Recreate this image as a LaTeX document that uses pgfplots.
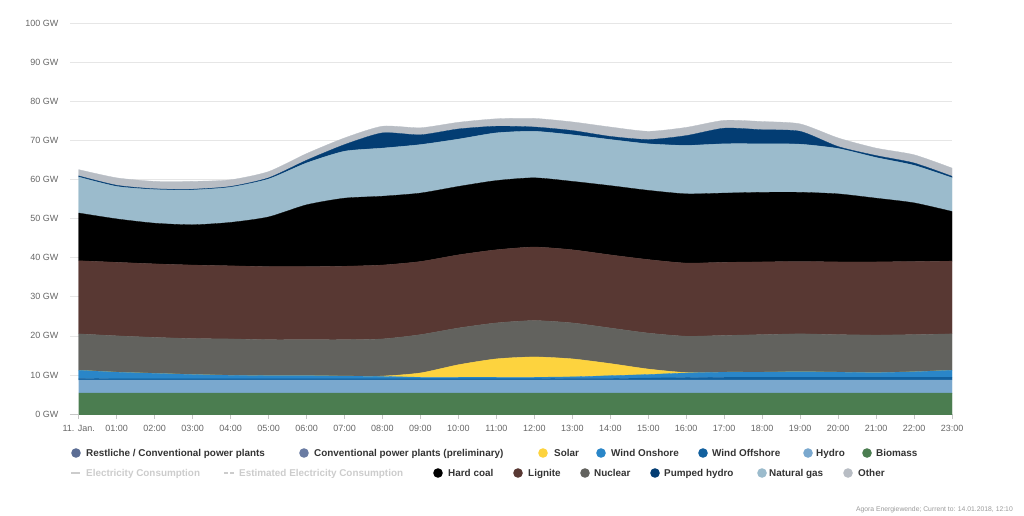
\documentclass[border=0pt]{standalone}
\usepackage{pgfplots}
\pgfplotsset{compat=1.18}
\usepackage{pgfplotstable}
\usepackage{fontspec}
\setmainfont{Liberation Sans}

\definecolor{cBio}{HTML}{4B7D50}
\definecolor{cHyd}{HTML}{7AA8CE}
\definecolor{cOff}{HTML}{12609E}
\definecolor{cOn}{HTML}{2A86C8}
\definecolor{cSol}{HTML}{FDD33E}
\definecolor{cNuc}{HTML}{62625E}
\definecolor{cLig}{HTML}{583833}
\definecolor{cHC}{HTML}{000000}
\definecolor{cGas}{HTML}{9BBBCC}
\definecolor{cPH}{HTML}{033D73}
\definecolor{cOth}{HTML}{B8BDC4}
\definecolor{cRest}{HTML}{5B6D94}
\definecolor{cPrel}{HTML}{6A7CA3}
\definecolor{cGrid}{HTML}{E6E6E6}
\definecolor{cTick}{HTML}{666666}
\definecolor{cLeg}{HTML}{333333}
\definecolor{cInact}{HTML}{CCCCCC}

\pgfplotstableread{
h bio hyd off on sol nuc lig hc gas ph oth
0 5.4 3.3 0.4 2.1 0.0 9.3 18.7 12.2 9.2 0.3 1.6
1 5.4 3.3 0.3 1.7 0.0 9.3 18.8 11.1 8.3 0.3 1.9
2 5.4 3.3 0.3 1.4 0.0 9.2 18.8 10.4 8.6 0.2 1.9
3 5.4 3.3 0.3 1.1 0.0 9.2 18.8 10.3 8.9 0.2 2.0
4 5.4 3.3 0.3 0.9 0.0 9.3 18.7 11.1 9.0 0.2 1.7
5 5.4 3.3 0.3 0.8 0.0 9.2 18.7 12.7 9.7 0.3 1.6
6 5.4 3.3 0.3 0.8 0.0 9.2 18.7 15.8 10.7 0.7 1.7
7 5.4 3.3 0.3 0.7 0.0 9.3 18.8 17.4 12.0 1.7 1.7
8 5.4 3.3 0.3 0.6 0.1 9.5 18.9 17.6 12.3 3.9 1.7
9 5.4 3.3 0.3 0.4 1.1 9.8 18.7 17.5 12.4 2.5 1.8
10 5.4 3.3 0.3 0.4 3.2 9.4 18.7 17.5 12.1 2.6 1.7
11 5.4 3.3 0.3 0.4 4.7 9.2 18.7 17.7 12.2 1.7 1.9
12 5.4 3.3 0.3 0.4 5.2 9.3 18.8 17.7 11.9 1.1 2.2
13 5.4 3.3 0.4 0.4 4.6 9.2 18.7 17.5 11.9 1.1 2.2
14 5.4 3.3 0.4 0.7 3.1 9.1 18.7 17.7 11.8 0.8 2.4
15 5.4 3.3 0.5 0.9 1.4 9.2 18.8 17.7 11.9 1.1 2.1
16 5.4 3.3 0.6 1.2 0.1 9.3 18.7 17.7 12.4 2.5 2.1
17 5.4 3.3 0.7 1.3 0.0 9.4 18.7 17.7 12.6 4.0 2.0
18 5.4 3.3 0.7 1.3 0.0 9.6 18.6 17.8 12.4 3.6 2.1
19 5.4 3.3 0.7 1.4 0.0 9.7 18.5 17.7 12.3 3.3 1.9
20 5.4 3.3 0.7 1.3 0.0 9.6 18.6 17.4 11.6 0.5 2.2
21 5.4 3.3 0.7 1.2 0.0 9.6 18.7 16.3 10.4 0.5 1.9
22 5.4 3.3 0.7 1.4 0.0 9.5 18.7 15.0 9.6 0.6 2.1
23 5.4 3.3 0.7 1.8 0.0 9.3 18.6 12.7 8.6 0.4 2.1
}\data

\begin{document}
\begin{tikzpicture}
\path[use as bounding box] (0pt,0pt) rectangle (1024pt,515pt);
\begin{axis}[
  at={(70pt,101pt)}, anchor=south west,
  scale only axis, width=882pt, height=391pt,
  xmin=-0.23, xmax=23, ymin=0, ymax=100,
  stack plots=y,
  axis x line*=bottom, axis y line*=left,
  x axis line style={draw=gray!45, line width=0.6pt, -},
  y axis line style={draw=none},
  xtick={0,...,23},
  xticklabels={11. Jan.,01:00,02:00,03:00,04:00,05:00,06:00,07:00,08:00,09:00,10:00,11:00,12:00,13:00,14:00,15:00,16:00,17:00,18:00,19:00,20:00,21:00,22:00,23:00},
  ytick={0,10,...,100},
  yticklabels={0 GW,10 GW,20 GW,30 GW,40 GW,50 GW,60 GW,70 GW,80 GW,90 GW,100 GW},
  ymajorgrids, grid style={draw=cGrid, line width=0.6pt},
  x tick style={draw=gray!45, line width=0.6pt},
  y tick style={draw=none},
  tick align=outside, major tick length=5pt,
  ticklabel style={font=\fontsize{9}{10}\selectfont, text=cTick},
  yticklabel style={xshift=-3pt},
  xticklabel style={yshift=-3pt},
  /pgf/number format/assume math mode=true,
  every axis plot/.append style={line width=0.3pt, smooth, tension=0.4},
]
\addplot[fill=cBio, draw=cBio] table[x=h,y=bio]{\data} \closedcycle;
\addplot[fill=cHyd, draw=cHyd] table[x=h,y=hyd]{\data} \closedcycle;
\addplot[fill=cOff, draw=cOff] table[x=h,y=off]{\data} \closedcycle;
\addplot[fill=cOn, draw=cOn] table[x=h,y=on]{\data} \closedcycle;
\addplot[fill=cSol, draw=cSol] table[x=h,y=sol]{\data} \closedcycle;
\addplot[fill=cNuc, draw=cNuc] table[x=h,y=nuc]{\data} \closedcycle;
\addplot[fill=cLig, draw=cLig] table[x=h,y=lig]{\data} \closedcycle;
\addplot[fill=cHC, draw=cHC] table[x=h,y=hc]{\data} \closedcycle;
\addplot[fill=cGas, draw=cGas] table[x=h,y=gas]{\data} \closedcycle;
\addplot[fill=cPH, draw=cPH] table[x=h,y=ph]{\data} \closedcycle;
\addplot[fill=cOth, draw=cOth] table[x=h,y=oth]{\data} \closedcycle;
\end{axis}

\begin{scope}[x=1pt,y=1pt]
\tikzset{lg/.style={anchor=base west, inner sep=0pt, font=\fontsize{9.9}{11}\selectfont\bfseries, text=cLeg},
         lgi/.style={anchor=base west, inner sep=0pt, font=\fontsize{9.9}{11}\selectfont\bfseries, text=cInact}}
% row 1
\fill[cRest] (76,62) circle (4.8);  \node[lg] at (86,58.2) {Restliche / Conventional power plants};
\fill[cPrel] (304,62) circle (4.8); \node[lg] at (314,58.2) {Conventional power plants (preliminary)};
\fill[cSol] (543,62) circle (4.8);  \node[lg] at (554,58.2) {Solar};
\fill[cOn] (601,62) circle (4.8);   \node[lg] at (611,58.2) {Wind Onshore};
\fill[cOff] (703,62) circle (4.8);  \node[lg] at (712,58.2) {Wind Offshore};
\fill[cHyd] (808,62) circle (4.8);  \node[lg] at (816,58.2) {Hydro};
\fill[cBio] (867,62) circle (4.8);  \node[lg] at (876,58.2) {Biomass};
% row 2
\draw[cInact, line width=1.5pt] (71,42) -- (80,42); \node[lgi] at (86,38.2) {Electricity Consumption};
\draw[cInact, line width=1.5pt, dash pattern=on 4pt off 2pt] (224,42) -- (235,42); \node[lgi] at (239,38.2) {Estimated Electricity Consumption};
\fill[cHC] (438,42) circle (4.8);   \node[lg] at (448,38.2) {Hard coal};
\fill[cLig] (518,42) circle (4.8);  \node[lg] at (528,38.2) {Lignite};
\fill[cNuc] (585,42) circle (4.8);  \node[lg] at (594,38.2) {Nuclear};
\fill[cPH] (655,42) circle (4.8);   \node[lg] at (664,38.2) {Pumped hydro};
\fill[cGas] (762,42) circle (4.8);  \node[lg] at (769,38.2) {Natural gas};
\fill[cOth] (848,42) circle (4.8);  \node[lg] at (858,38.2) {Other};
% footer
\node[anchor=base east, inner sep=0pt, font=\fontsize{6.8}{8}\selectfont, text=gray!80] at (1013,3.5) {Agora Energiewende; Current to: 14.01.2018, 12:10};
\end{scope}
\end{tikzpicture}
\end{document}
